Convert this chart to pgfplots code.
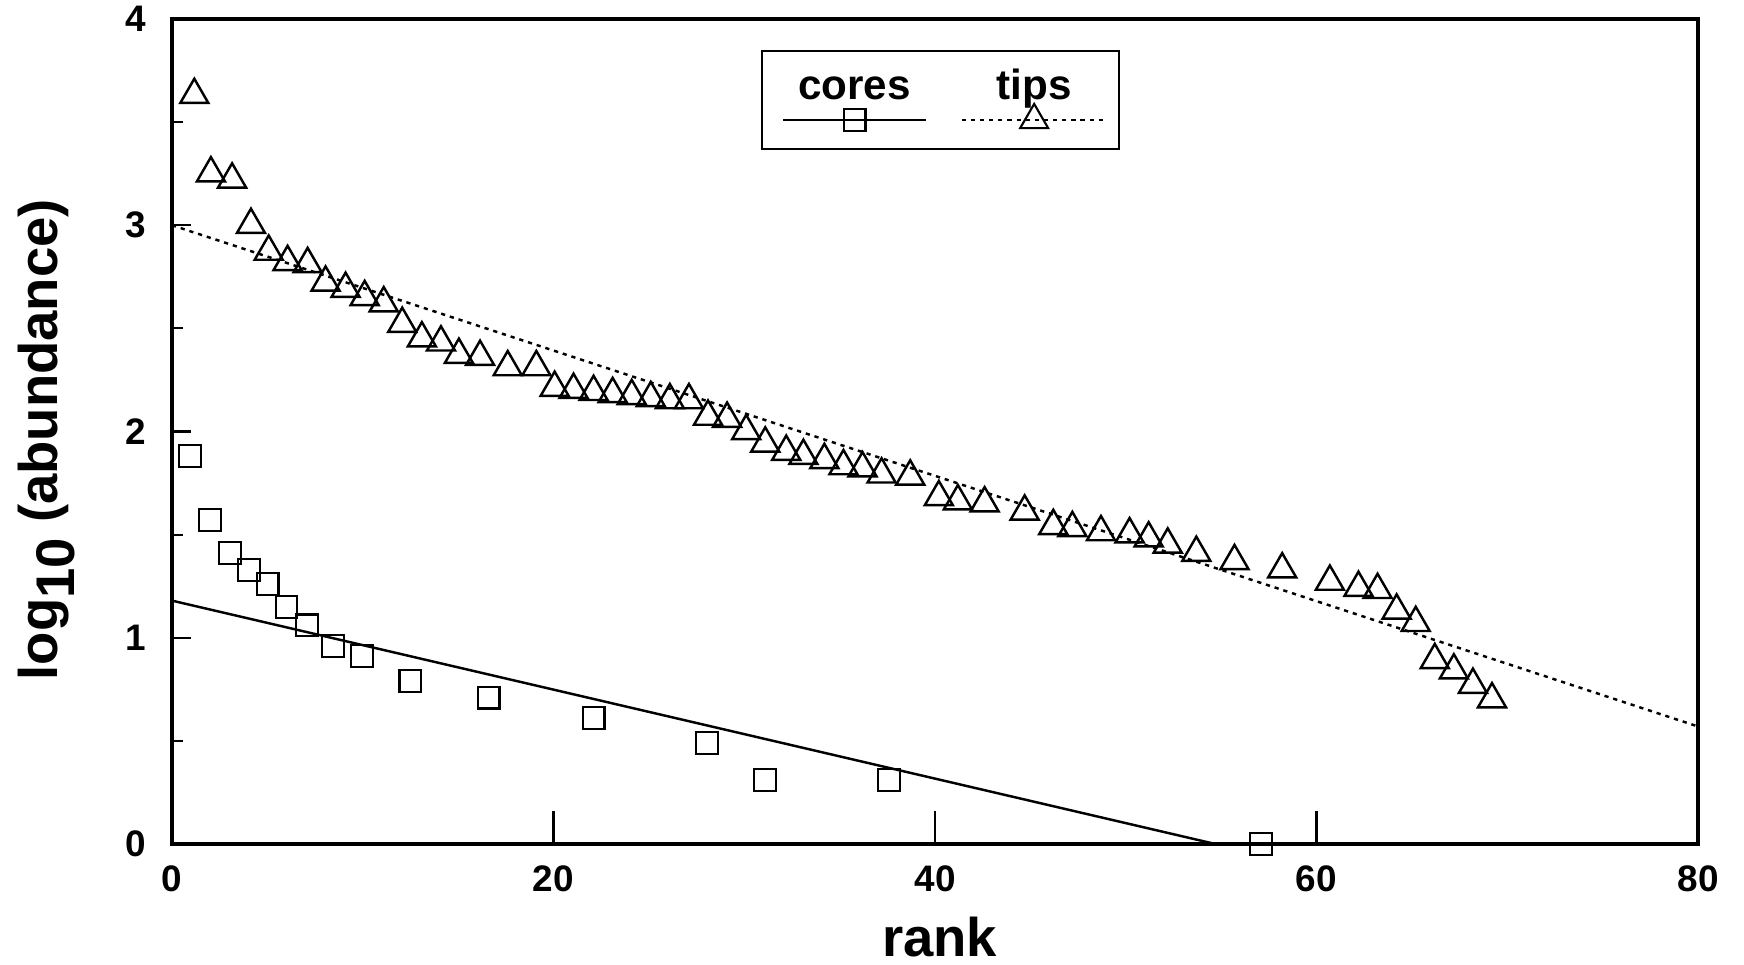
\documentclass[border=0pt]{standalone}
\usepackage{pgfplots}
\pgfplotsset{compat=1.18}
\usepackage{fontspec}
\setmainfont{Liberation Sans}

\begin{document}
\begin{tikzpicture}
\begin{axis}[
  scale only axis,
  width=152.6mm, height=82.5mm,
  xmin=0, xmax=80, ymin=0, ymax=4,
  xtick={0,20,40,60,80},
  ytick={0,1,2,3,4},
  minor ytick={0.5,1.5,2.5,3.5},
  tick align=inside,
  xtick pos=bottom, ytick pos=left,
  major tick length=1.9mm,
  minor tick length=1.1mm,
  x tick style={/pgfplots/major tick length=3.3mm, line width=0.6pt, black},
  y tick style={line width=0.6pt, black},
  axis line style={line width=0.9pt},
  /pgf/number format/assume math mode=true,
  ticklabel style={font=\bfseries\fontsize{10.5}{12}\selectfont},
  xticklabel style={yshift=-0.9mm},
  yticklabel style={xshift=-1.4mm},
  xlabel={\bfseries rank},
  ylabel={\bfseries log\raisebox{-0.6ex}{10} (abundance)},
  label style={font=\bfseries\fontsize{15.5}{18}\selectfont, inner sep=0pt},
  xlabel style={at={(axis description cs:0.503,-0.113)}, anchor=center},
  ylabel style={at={(axis description cs:-0.082,0.49)}, anchor=center},
  legend style={at={(axis description cs:0.386,0.9624)}, anchor=north west,
    inner sep=0pt, line width=0.6pt, draw=black,
    nodes={inner sep=0pt}, column sep=0pt},
  legend columns=2,
]
\addlegendimage{black, line width=0.6pt, mark=square, mark size=3.1pt,
  legend image code/.code={
    \draw[mark repeat=2,mark phase=2] plot coordinates {(0mm,0mm)(7.15mm,0mm)(14.3mm,0mm)};
    \node[anchor=base, font=\bfseries\fontsize{12}{14}\selectfont, inner sep=0pt] at (7.15mm,2.1mm) {cores};
    \path[draw=none, fill=none] (-2.1mm,-2.9mm) rectangle (14.3mm,6.9mm);
  }}
\addlegendentry{\hspace{0pt}}
\addlegendimage{black, line width=0.6pt, dash pattern=on 1.2pt off 1.4pt, mark=triangle, mark size=4.6pt, mark options={solid},
  legend image code/.code={
    \draw[mark repeat=2,mark phase=2] plot coordinates {(0mm,0mm)(7.25mm,0mm)(14.5mm,0mm)};
    \node[anchor=base, font=\bfseries\fontsize{12}{14}\selectfont, inner sep=0pt] at (7.25mm,2.1mm) {tips};
    \path[draw=none, fill=none] (-3.1mm,-2.9mm) rectangle (15.4mm,6.9mm);
  }}
\addlegendentry{\hspace{0pt}}

% fitted lines
\addplot[forget plot, black, line width=0.7pt] coordinates {(0,1.18) (54.7,0)};
\addplot[forget plot, black, line width=0.7pt, dash pattern=on 1.2pt off 1.4pt] coordinates {(0,3.0) (80,0.57)};

% tips
\addplot[forget plot, only marks, mark=triangle, mark size=4.6pt, mark options={black, line width=0.7pt}] coordinates {
(1.17,3.632)(2.04,3.252)(3.15,3.222)(4.14,3.002)(5.07,2.872)(6.06,2.822)(7.11,2.812)(8.05,2.722)(9.1,2.692)(10.1,2.652)
(11.1,2.622)(12.07,2.522)(13.1,2.452)(14.1,2.432)(15.04,2.372)(16.15,2.362)(17.6,2.312)(19.1,2.312)(20.06,2.212)(21.05,2.202)
(22.1,2.192)(23.1,2.182)(24.1,2.172)(25.1,2.162)(26.1,2.152)(27.1,2.152)(28.1,2.072)(29.1,2.062)(30.1,2.002)(31.1,1.942)
(32.2,1.902)(33.1,1.882)(34.2,1.862)(35.2,1.832)(36.2,1.822)(37.2,1.792)(38.7,1.782)(40.2,1.682)(41.2,1.662)(42.6,1.652)
(44.7,1.612)(46.2,1.542)(47.2,1.532)(48.7,1.512)(50.2,1.502)(51.2,1.482)(52.2,1.452)(53.7,1.412)(55.7,1.372)(58.2,1.332)
(60.7,1.272)(62.2,1.242)(63.2,1.232)(64.2,1.132)(65.2,1.072)(66.2,0.892)(67.2,0.842)(68.2,0.772)(69.2,0.702)};

% cores
\addplot[forget plot, only marks, mark=square, mark size=3.1pt, mark options={black, line width=0.6pt}] coordinates {
(0.93,1.88)(1.98,1.57)(3.03,1.41)(4.02,1.33)(5.01,1.26)(6.0,1.15)(7.06,1.06)(8.45,0.96)(9.97,0.91)(12.5,0.79)
(16.6,0.71)(22.1,0.61)(28.05,0.49)(31.1,0.31)(37.6,0.31)(57.1,0.0)};
\end{axis}
\pgfresetboundingbox
\useasboundingbox ([shift={(-17.2mm,-12.0mm)}]current axis.south west) rectangle ([shift={(4.6mm,1.9mm)}]current axis.north east);
\end{tikzpicture}
\end{document}
